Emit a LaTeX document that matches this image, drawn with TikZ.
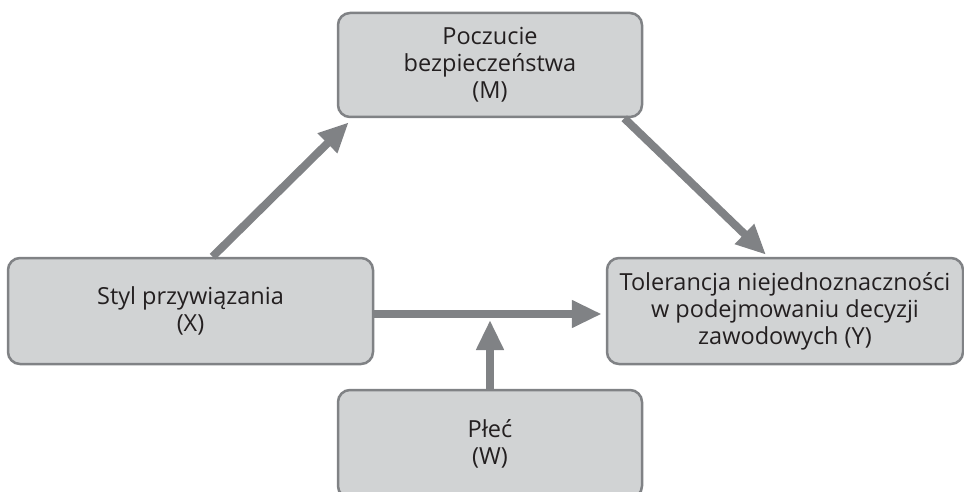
\documentclass[tikz,border=0pt]{standalone}
\usepackage{fontspec}
\setmainfont{Open Sans}
\usepackage{tikz}
\usetikzlibrary{arrows.meta}

\definecolor{boxfill}{HTML}{D1D3D4}
\definecolor{boxline}{HTML}{808285}
\definecolor{linkgray}{HTML}{808285}
\definecolor{textdark}{HTML}{231F20}

\tikzset{
  box/.style={draw=boxline, fill=boxfill, line width=2.5pt, rounded corners=12pt,
    align=center, text=textdark, inner sep=0pt,
    font=\fontsize{23.5}{27}\selectfont},
  link/.style={draw=linkgray, line width=8pt,
    -{Triangle[length=30pt,width=26pt]}}
}

\begin{document}
\begin{tikzpicture}[x=1pt,y=-1pt]
                \useasboundingbox (0,0) rectangle (964,492);

                \node[box, minimum width=304pt, minimum height=104pt] (M) at (490,65) {Poczucie\\bezpieczeństwa\\(M)};
                \node[box, minimum width=365pt, minimum height=106pt] (X) at (190.5,311) {Styl przywiązania\\(X)};
                \node[box, minimum width=356pt, minimum height=106pt] (Y) at (785,311) {Tolerancja niejednoznaczności\\w podejmowaniu decyzji\\zawodowych (Y)};
                \node[box, minimum width=304pt, minimum height=108pt] (W) at (490,444) {Płeć\\(W)};

                \draw[link] ([xshift=22pt]X.north) -- ([xshift=12pt,yshift=-4pt]M.south west);
                \draw[link] ([xshift=-19pt]M.south east) -- ([xshift=-19pt,yshift=2pt]Y.north);
                \draw[link] ([yshift=-3pt]X.east) -- ([yshift=-3pt,xshift=-4pt]Y.west);
                \draw[link] (W.north) -- ([yshift=-9pt]W.north |- X.east);
            \end{tikzpicture}
\end{document}
